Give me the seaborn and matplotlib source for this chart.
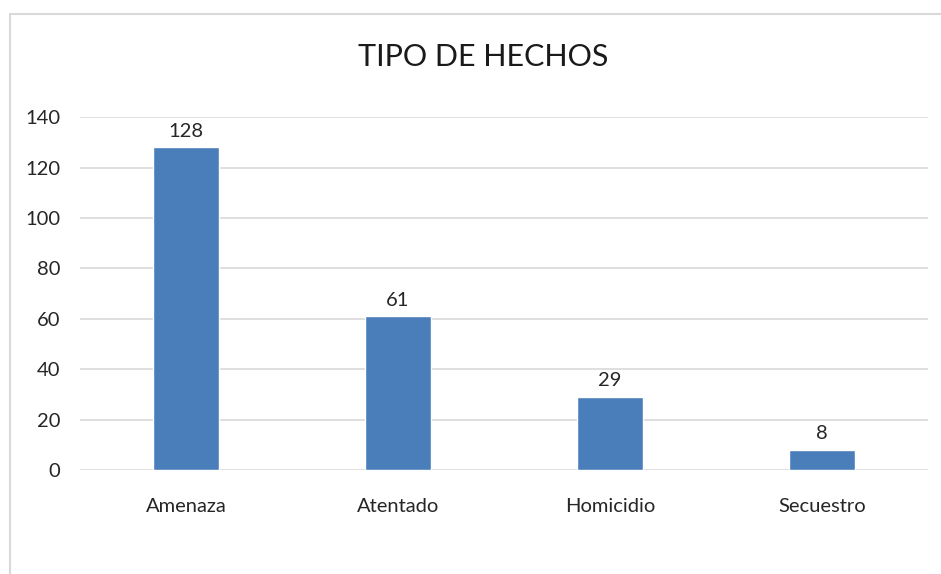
import matplotlib.pyplot as plt
import matplotlib.patches as patches
import seaborn as sns
import pandas as pd

# data
categorias = ["Amenaza", "Atentado", "Homicidio", "Secuestro"]
valores = [128, 61, 29, 8]

sns.set_theme(style="white")
plt.rcParams['font.family'] = ['Lato', 'DejaVu Sans']

df = pd.DataFrame({"Tipo": categorias, "Casos": valores})

fig = plt.figure(figsize=(9.41, 5.74), dpi=100)
ax = fig.add_axes([0.085, 0.181, 0.901, 0.615])

sns.barplot(data=df, x="Tipo", y="Casos", color="#4a7ebb", saturation=1,
            width=0.31, ax=ax, zorder=3)

ax.set_ylim(0, 140)
ax.set_xlim(-0.5, 3.5)
ax.set_yticks(range(0, 141, 20))
ax.yaxis.grid(True, color="#d9d9d9", linewidth=1.2, zorder=0)
ax.set_xlabel("")
ax.set_ylabel("")
for s in ax.spines.values():
    s.set_visible(False)
ax.tick_params(axis="y", labelsize=14.5, colors="#262626", pad=14, length=0)
ax.tick_params(axis="x", labelsize=14.5, colors="#262626", pad=20, length=0)

for p, v in zip(ax.patches, valores):
    ax.text(p.get_x() + p.get_width() / 2, v + 3, str(v), ha="center",
            va="bottom", fontsize=14.5, color="#262626")

fig.text(0.513, 0.9, "TIPO DE HECHOS", ha="center", va="center",
         fontsize=22, color="#1a1a1a")

# outer chart frame
fig.patches.append(patches.Rectangle((0.011, -0.01), 1.0, 0.985,
                                     transform=fig.transFigure, fill=False,
                                     edgecolor="#d9d9d9", linewidth=1.5))

fig.savefig("out.png", dpi=100)
